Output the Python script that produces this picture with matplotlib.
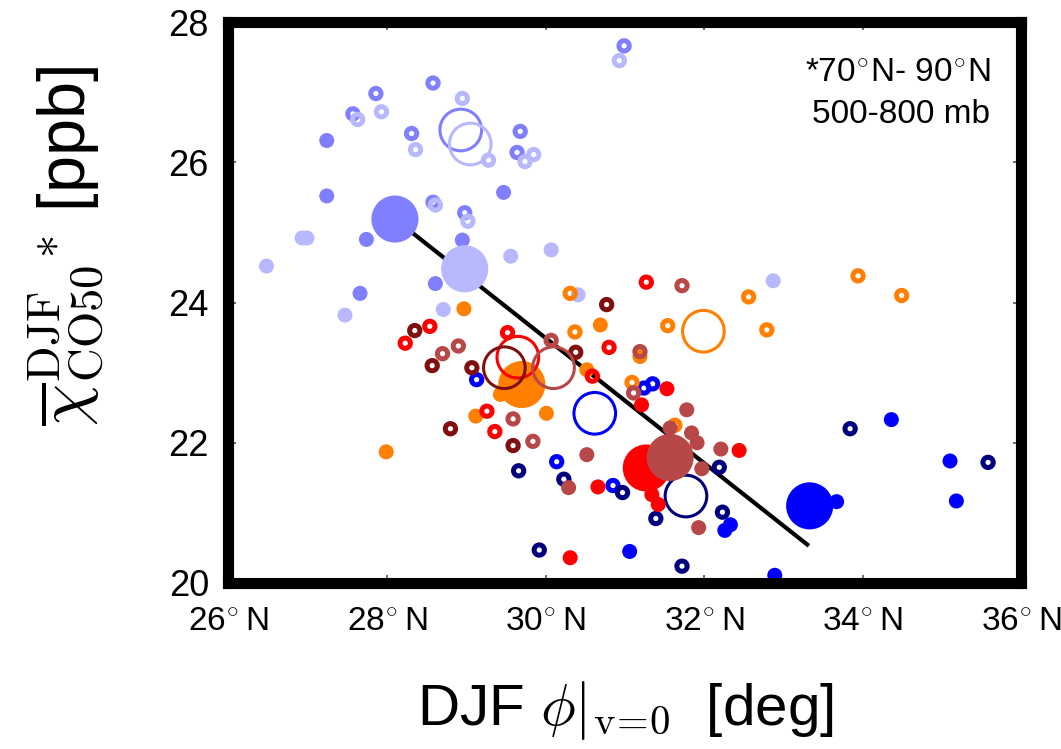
import matplotlib
matplotlib.use('Agg')
import matplotlib.pyplot as plt

plt.rcParams['font.family'] = ['Liberation Sans', 'DejaVu Sans']
plt.rcParams['mathtext.fontset'] = 'cm'

# ---------------------------------------------------------------------------
# data: DJF jet latitude vs. Arctic CO50 mixing ratio, one colour per run set
# *_fill = small filled points, *_ring = small open points,
# *_big / *_big_ring = ensemble means (filled / open)
# ---------------------------------------------------------------------------

# medium blue
mb_fill_x = [27.24, 27.24, 27.74, 28.95, 28.61, 27.66, 29.47]
mb_fill_y = [26.31, 25.52, 24.90, 24.89, 24.27, 24.13, 25.57]
mb_ring_x = [28.58, 27.86, 27.57, 28.31, 28.58, 28.98, 30.99, 29.68, 29.64]
mb_ring_y = [27.13, 26.98, 26.69, 26.41, 25.43, 25.28, 27.66, 26.44, 26.14]
mb_big = (28.10, 25.19)
mb_big_ring = (28.93, 26.46)

# light blue
lb_fill_x = [26.93, 26.99, 26.48, 29.56, 30.07, 30.41, 32.87, 27.47, 28.71]
lb_fill_y = [24.92, 24.92, 24.52, 24.66, 24.75, 24.11, 24.31, 23.82, 23.90]
lb_ring_x = [28.95, 27.93, 27.63, 28.36, 29.28, 28.61, 29.02, 30.93, 29.74, 29.85]
lb_ring_y = [26.91, 26.72, 26.61, 26.18, 26.03, 25.39, 25.16, 27.45, 26.01, 26.11]
lb_big = (28.98, 24.48)
lb_big_ring = (29.05, 26.26)

# blue
b_fill_x = [31.06, 32.33, 32.26, 32.89, 34.36, 35.10, 35.18, 33.67]
b_fill_y = [20.45, 20.83, 20.75, 20.11, 22.33, 21.74, 21.17, 21.16]
b_ring_x = [29.13, 30.14, 30.85, 31.35, 31.24]
b_ring_y = [22.90, 21.73, 21.39, 22.84, 22.78]
b_big = (33.33, 21.10)
b_big_ring = (30.62, 22.42)

# navy
n_ring_x = [29.66, 30.23, 30.97, 31.39, 29.92, 31.72, 32.23, 32.19, 33.84, 35.58]
n_ring_y = [21.60, 21.48, 21.29, 20.92, 20.47, 20.24, 21.01, 21.65, 22.20, 21.72]
n_big_ring = (31.77, 21.24)

# orange
o_fill_x = [28.97, 27.99, 29.12, 30.69, 30.01, 30.52, 29.43, 31.19]
o_fill_y = [23.91, 21.87, 22.38, 23.68, 22.42, 23.04, 22.69, 23.23]
o_ring_x = [30.31, 32.56, 33.94, 34.49, 32.79, 31.54, 30.37, 31.09, 31.63]
o_ring_y = [24.13, 24.08, 24.38, 24.10, 23.61, 23.67, 23.58, 22.86, 22.25]
o_big = (29.70, 22.83)
o_big_ring = (31.99, 23.59)

# red
r_fill_x = [31.53, 31.21, 32.44, 30.66, 30.31, 31.42, 31.34]
r_fill_y = [22.77, 22.54, 21.89, 21.37, 20.36, 21.12, 21.26]
r_ring_x = [31.27, 28.23, 28.54, 29.26, 29.36, 29.52, 30.80, 30.59]
r_ring_y = [24.29, 23.42, 23.66, 22.45, 22.16, 23.57, 23.36, 22.95]
r_big = (31.27, 21.64)
r_big_ring = (29.65, 23.22)

# dark red
d_ring_x = [30.77, 28.35, 28.57, 29.07, 28.80, 29.59, 30.38]
d_ring_y = [23.97, 23.60, 23.10, 23.07, 22.20, 21.96, 23.29]
d_big_ring = (29.48, 23.07)

# brown
br_fill_x = [31.78, 31.57, 31.84, 31.91, 32.21, 31.97, 30.52, 30.29, 31.93]
br_fill_y = [22.47, 22.21, 22.14, 22.00, 21.91, 21.63, 21.83, 21.36, 20.79]
br_ring_x = [31.72, 28.70, 28.90, 29.59, 29.84, 30.07, 31.19, 31.11]
br_ring_y = [24.24, 23.27, 23.38, 22.34, 22.02, 23.46, 23.30, 22.71]
br_big = (31.57, 21.79)
br_big_ring = (30.10, 23.07)

# fit through the ensemble means
fit_x = [28.10, 33.32]
fit_y = [25.19, 20.53]

x_ticks = [26, 28, 30, 32, 34, 36]
y_ticks = [20, 22, 24, 26, 28]

C_MB = '#8080ff'
C_LB = '#b8b8ff'
C_B = '#0000ff'
C_N = '#00007f'
C_O = '#ff8000'
C_R = '#ff0000'
C_D = '#801010'
C_BR = '#b84848'

S_SMALL, S_RING, S_BIG, S_BIG_RING = 117, 55, 1150, 900
LW_RING, LW_BIG_RING = 3.6, 2.2

fig = plt.figure(figsize=(10.61, 7.49), dpi=100)
ax = fig.add_axes([228.4 / 1061, 166 / 749, 793 / 1061, 561 / 749])

ax.plot(fit_x, fit_y, color='black', lw=3, zorder=1, solid_capstyle='butt')


def draw_group(color, fill=None, ring=None, big=None, big_ring=None):
    if fill is not None:
        ax.scatter(fill[0], fill[1], s=S_SMALL, color=color, edgecolors='none', zorder=2)
    if ring is not None:
        ax.scatter(ring[0], ring[1], s=S_RING, facecolors='none', edgecolors=color,
                   linewidths=LW_RING, zorder=2)
    if big is not None:
        ax.scatter([big[0]], [big[1]], s=S_BIG, color=color, edgecolors='none', zorder=2)
    if big_ring is not None:
        ax.scatter([big_ring[0]], [big_ring[1]], s=S_BIG_RING, facecolors='none',
                   edgecolors=color, linewidths=LW_BIG_RING, zorder=2)


draw_group(C_MB, (mb_fill_x, mb_fill_y), (mb_ring_x, mb_ring_y), mb_big, mb_big_ring)
draw_group(C_LB, (lb_fill_x, lb_fill_y), (lb_ring_x, lb_ring_y), lb_big, lb_big_ring)
draw_group(C_B, (b_fill_x, b_fill_y), (b_ring_x, b_ring_y), b_big, b_big_ring)
draw_group(C_N, None, (n_ring_x, n_ring_y), None, n_big_ring)
draw_group(C_O, (o_fill_x, o_fill_y), (o_ring_x, o_ring_y), o_big, o_big_ring)
draw_group(C_R, (r_fill_x, r_fill_y), (r_ring_x, r_ring_y), r_big, r_big_ring)
draw_group(C_D, None, (d_ring_x, d_ring_y), None, d_big_ring)
draw_group(C_BR, (br_fill_x, br_fill_y), (br_ring_x, br_ring_y), br_big, br_big_ring)

ax.set_xlim(26, 36)
ax.set_ylim(20, 28)

for sp in ax.spines.values():
    sp.set_linewidth(8)
    sp.set_color('black')

ax.tick_params(direction='in', length=6, width=1.2, color='#555555',
               top=True, right=True)
ax.set_xticks(x_ticks)
ax.set_xticklabels([r'%d$^{\circ}\,$N' % t for t in x_ticks], fontsize=24)
ax.set_yticks(y_ticks)
ax.set_yticklabels([str(t) for t in y_ticks], fontsize=26)
ax.tick_params(axis='x', pad=17)
ax.tick_params(axis='y', pad=14)

ax.set_xlabel(r'DJF $\phi|_{\rm v\!=\!0}$  [deg]', fontsize=42, labelpad=30)

fig.text(67 / 1061, 1 - 246 / 749,
         r'$\overline{\chi}^{\rm DJF}_{\rm CO50}{}^{*}$ [ppb]',
         rotation=90, ha='center', va='center', fontsize=48)

ax.text(0.961, 0.893, r'*70$^{\circ}$N- 90$^{\circ}$N', transform=ax.transAxes,
        ha='right', va='baseline', fontsize=24)
ax.text(0.961, 0.820, '500-800 mb', transform=ax.transAxes,
        ha='right', va='baseline', fontsize=24)

fig.savefig('out.png', dpi=100)
